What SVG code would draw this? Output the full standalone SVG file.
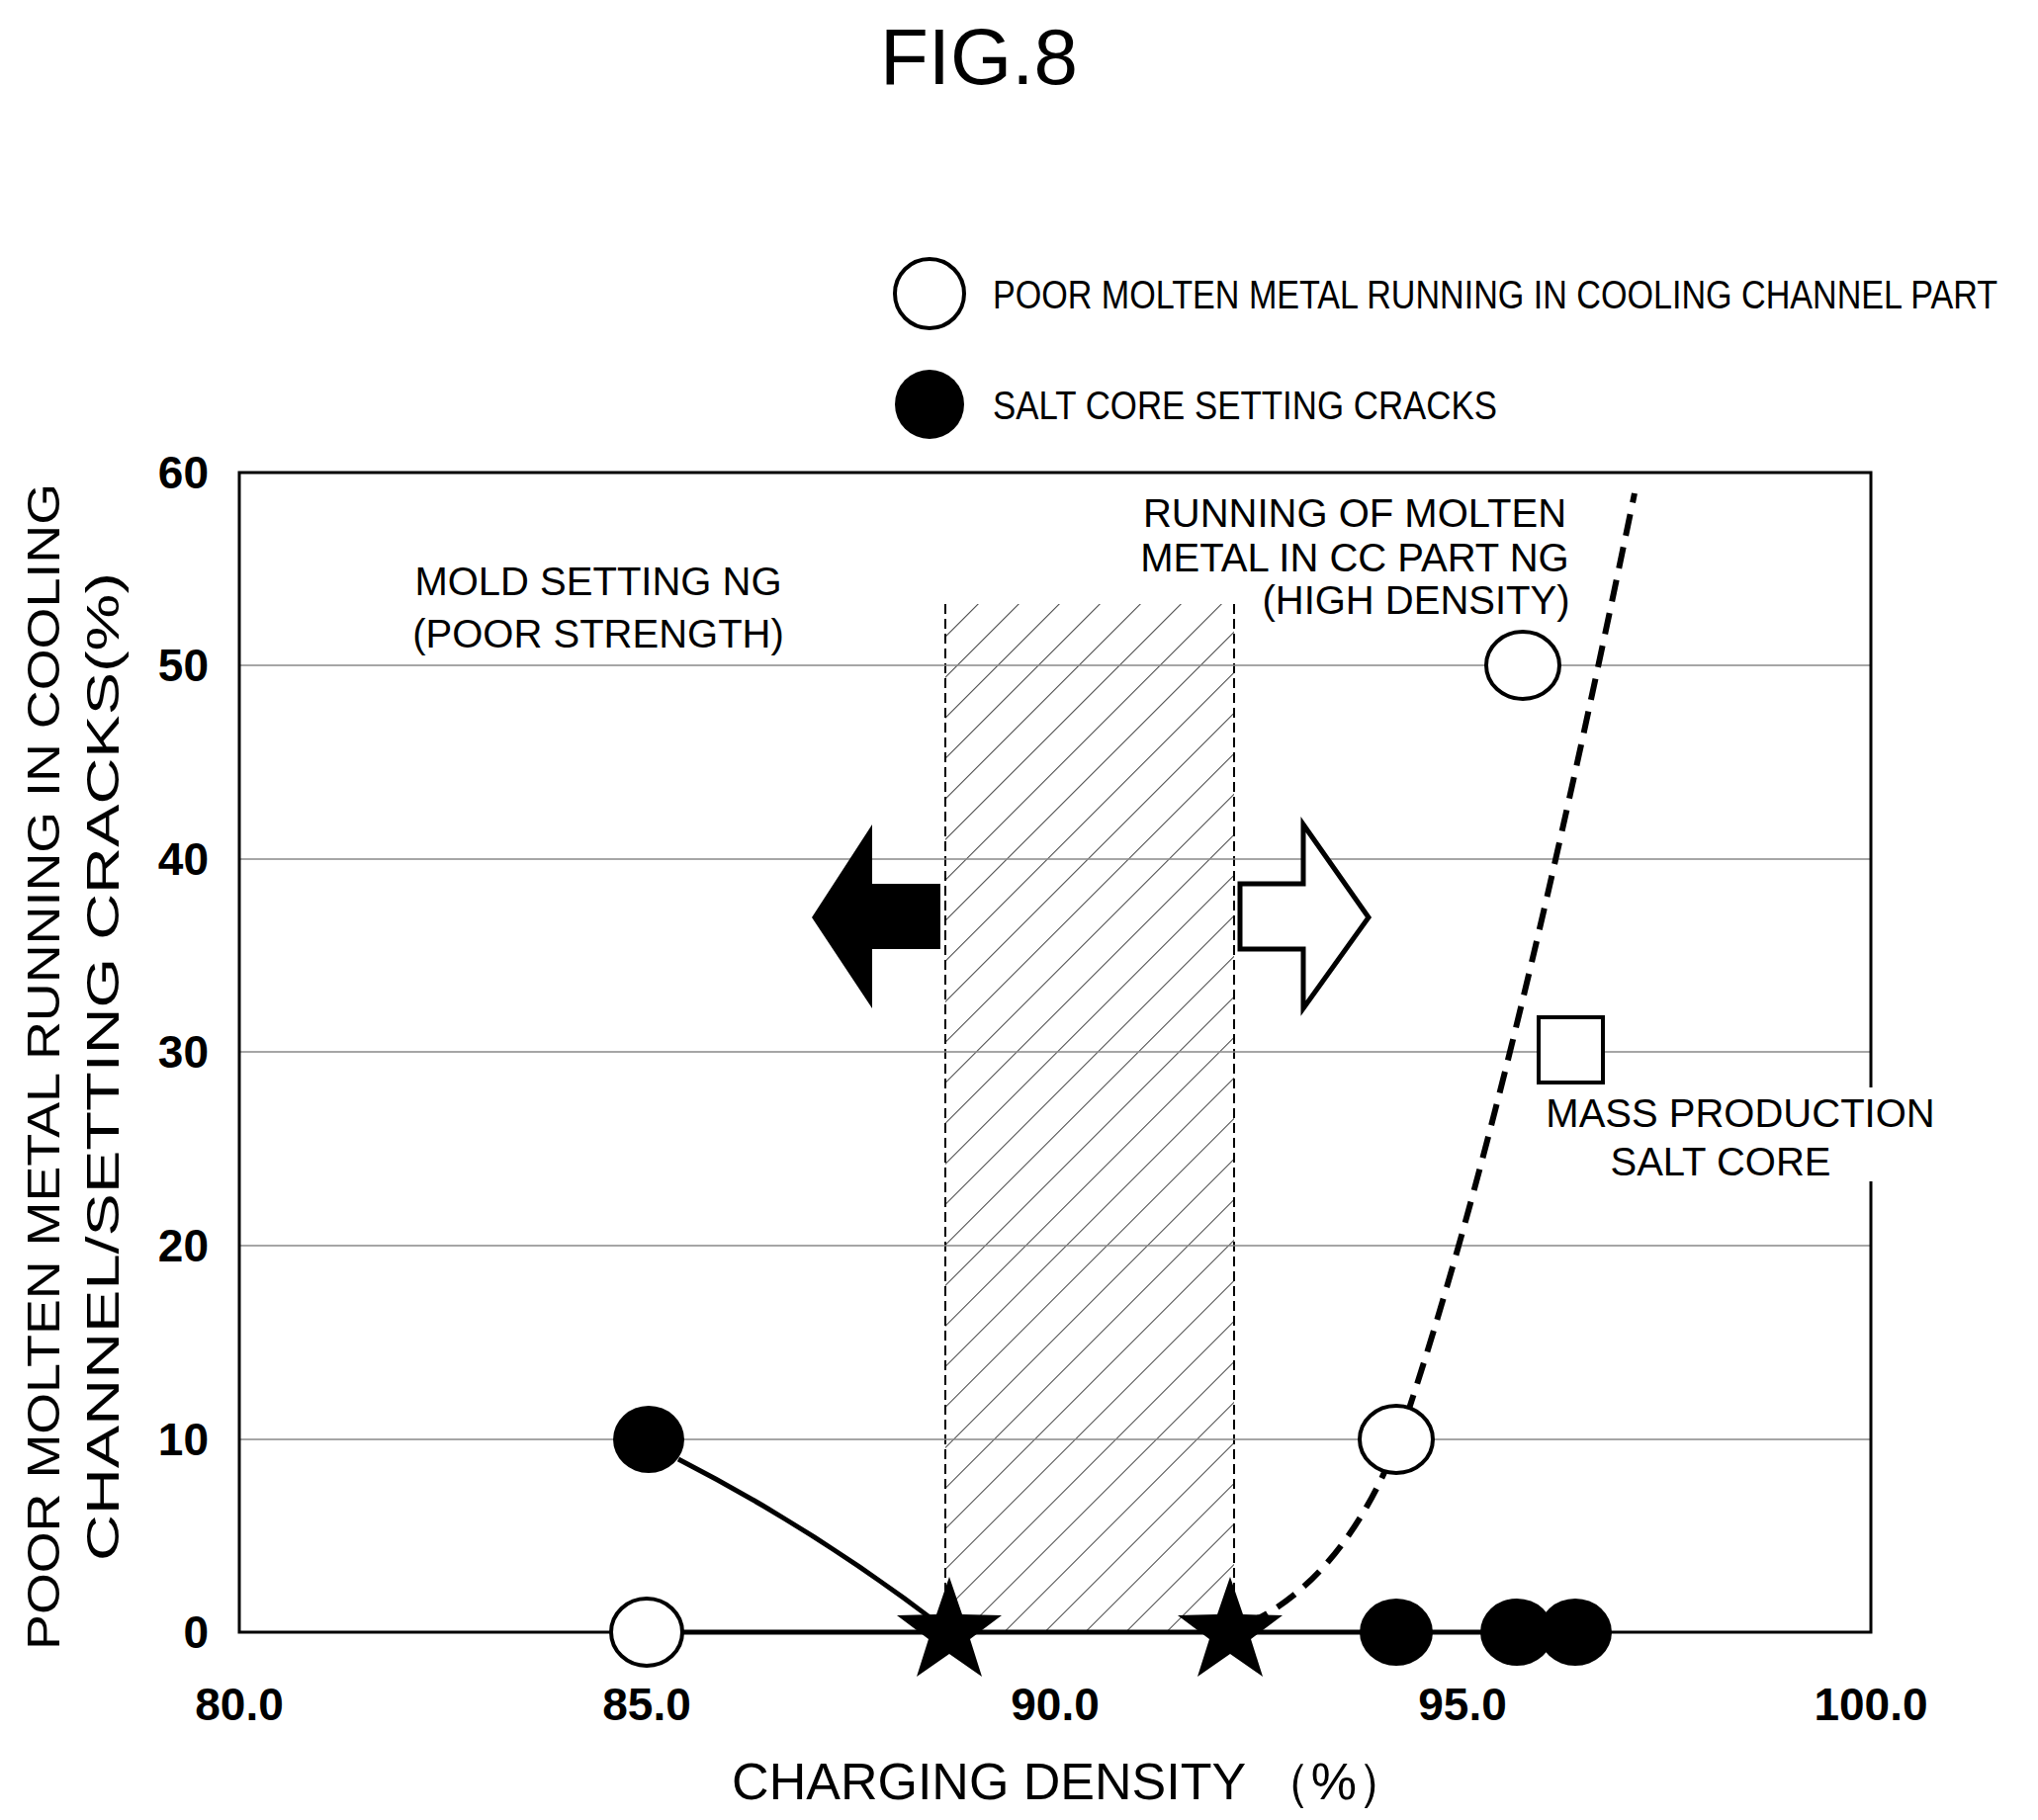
<svg xmlns="http://www.w3.org/2000/svg" width="2061" height="1841" viewBox="0 0 2061 1841">
<style>
text{font-family:"Liberation Sans",Arial,sans-serif;fill:#000}
.tk{font-size:46px;font-weight:bold}
.an{font-size:40px}
.grid{stroke:#888;stroke-width:1.5}
.op{fill:#fff;stroke:#000;stroke-width:4}
.fl{fill:#000}
</style>
<defs>
<pattern id="hatch" width="29" height="29" patternUnits="userSpaceOnUse" patternTransform="rotate(45)">
<line x1="0" y1="0" x2="0" y2="29" stroke="#000" stroke-width="1.5"/>
</pattern>
<polygon id="star" points="0,-56 13,-18 53,-17 21,7 33,45 0,22 -33,45 -21,7 -53,-17 -13,-18"/>
</defs>
<rect width="2061" height="1841" fill="#fff"/>
<text x="990" y="85" font-size="80" text-anchor="middle">FIG.8</text>
<g id="legend">
<circle cx="940" cy="297" r="35" class="op"/>
<text x="1004" y="312" font-size="41" textLength="1016" lengthAdjust="spacingAndGlyphs">POOR MOLTEN METAL RUNNING IN COOLING CHANNEL PART</text>
<circle cx="940" cy="409" r="35" class="fl"/>
<text x="1004" y="424" font-size="41" textLength="510" lengthAdjust="spacingAndGlyphs">SALT CORE SETTING CRACKS</text>
</g>
<g id="hatch-zone">
<rect x="956" y="611" width="292" height="1040" fill="url(#hatch)"/>
<line x1="956" y1="611" x2="956" y2="1651" stroke="#000" stroke-width="2" stroke-dasharray="10,5"/>
<line x1="1248" y1="611" x2="1248" y2="1651" stroke="#000" stroke-width="2" stroke-dasharray="10,5"/>
</g>
<g id="axes">
<line x1="242" y1="1260" x2="1892" y2="1260" class="grid"/>
<line x1="242" y1="1064" x2="1892" y2="1064" class="grid"/>
<line x1="242" y1="869" x2="1892" y2="869" class="grid"/>
<line x1="242" y1="673" x2="1892" y2="673" class="grid"/>
<line x1="242" y1="1456" x2="1892" y2="1456" class="grid"/>
<rect x="242" y="478" width="1650" height="1173" fill="none" stroke="#000" stroke-width="3"/>
<g class="tk" text-anchor="end">
<text x="211" y="494">60</text><text x="211" y="689">50</text><text x="211" y="885">40</text>
<text x="211" y="1080">30</text><text x="211" y="1276">20</text><text x="211" y="1472">10</text><text x="211" y="1667">0</text>
</g>
<g class="tk" text-anchor="middle">
<text x="242" y="1740">80.0</text><text x="654" y="1740">85.0</text><text x="1067" y="1740">90.0</text>
<text x="1479" y="1740">95.0</text><text x="1892" y="1740">100.0</text>
</g>
<text x="1082" y="1820" font-size="52" text-anchor="middle">CHARGING DENSITY （%）</text>
<g transform="translate(60,1079) rotate(-90)">
<text x="0" y="0" font-size="46" text-anchor="middle" textLength="1180" lengthAdjust="spacingAndGlyphs">POOR MOLTEN METAL RUNNING IN COOLING</text>
<text x="0" y="60" font-size="46" text-anchor="middle" textLength="1000" lengthAdjust="spacingAndGlyphs">CHANNEL/SETTING CRACKS(%)</text>
</g>
</g>
<g id="connectors" fill="none" stroke="#000">
<line x1="654" y1="1651" x2="1600" y2="1651" stroke-width="5"/>
<path d="M686,1476 Q830,1550 960,1651" stroke-width="5"/>
<path d="M1262,1642 C1330,1612 1385,1540 1420,1440 C1500,1200 1570,900 1653,499" stroke-width="6" stroke-dasharray="22,12"/>
</g>
<g id="arrows">
<polygon points="821,928 882,834 882,894 951,894 951,960 882,960 882,1020" fill="#000"/>
<polygon points="1384,928 1318,834 1318,894 1254,894 1254,960 1318,960 1318,1020" fill="#fff" stroke="#000" stroke-width="5" stroke-linejoin="miter"/>
</g>
<g id="points">
<ellipse cx="656" cy="1456" rx="36" ry="34" class="fl"/>
<ellipse cx="654" cy="1651" rx="36" ry="34" class="op"/>
<ellipse cx="1412" cy="1456" rx="37" ry="34" class="op"/>
<ellipse cx="1540" cy="673" rx="37" ry="34" class="op"/>
<ellipse cx="1412" cy="1651" rx="37" ry="34" class="fl"/>
<ellipse cx="1534" cy="1651" rx="37" ry="34" class="fl"/>
<ellipse cx="1593" cy="1651" rx="37" ry="34" class="fl"/>
<use href="#star" x="960" y="1651"/>
<use href="#star" x="1244" y="1651"/>
<rect x="1556" y="1029" width="65" height="66" fill="#fff" stroke="#000" stroke-width="4"/>
</g>
<g id="labels" class="an" text-anchor="middle">
<text x="605" y="602">MOLD SETTING NG</text>
<text x="605" y="655">(POOR STRENGTH)</text>
<text x="1370" y="533">RUNNING OF MOLTEN</text>
<text x="1370" y="578">METAL IN CC PART NG</text>
<text x="1432" y="621">(HIGH DENSITY)</text>
<rect x="1540" y="1100" width="450" height="95" fill="#fff"/>
<text x="1760" y="1140">MASS PRODUCTION</text>
<text x="1740" y="1189">SALT CORE</text>
</g>
</svg>
